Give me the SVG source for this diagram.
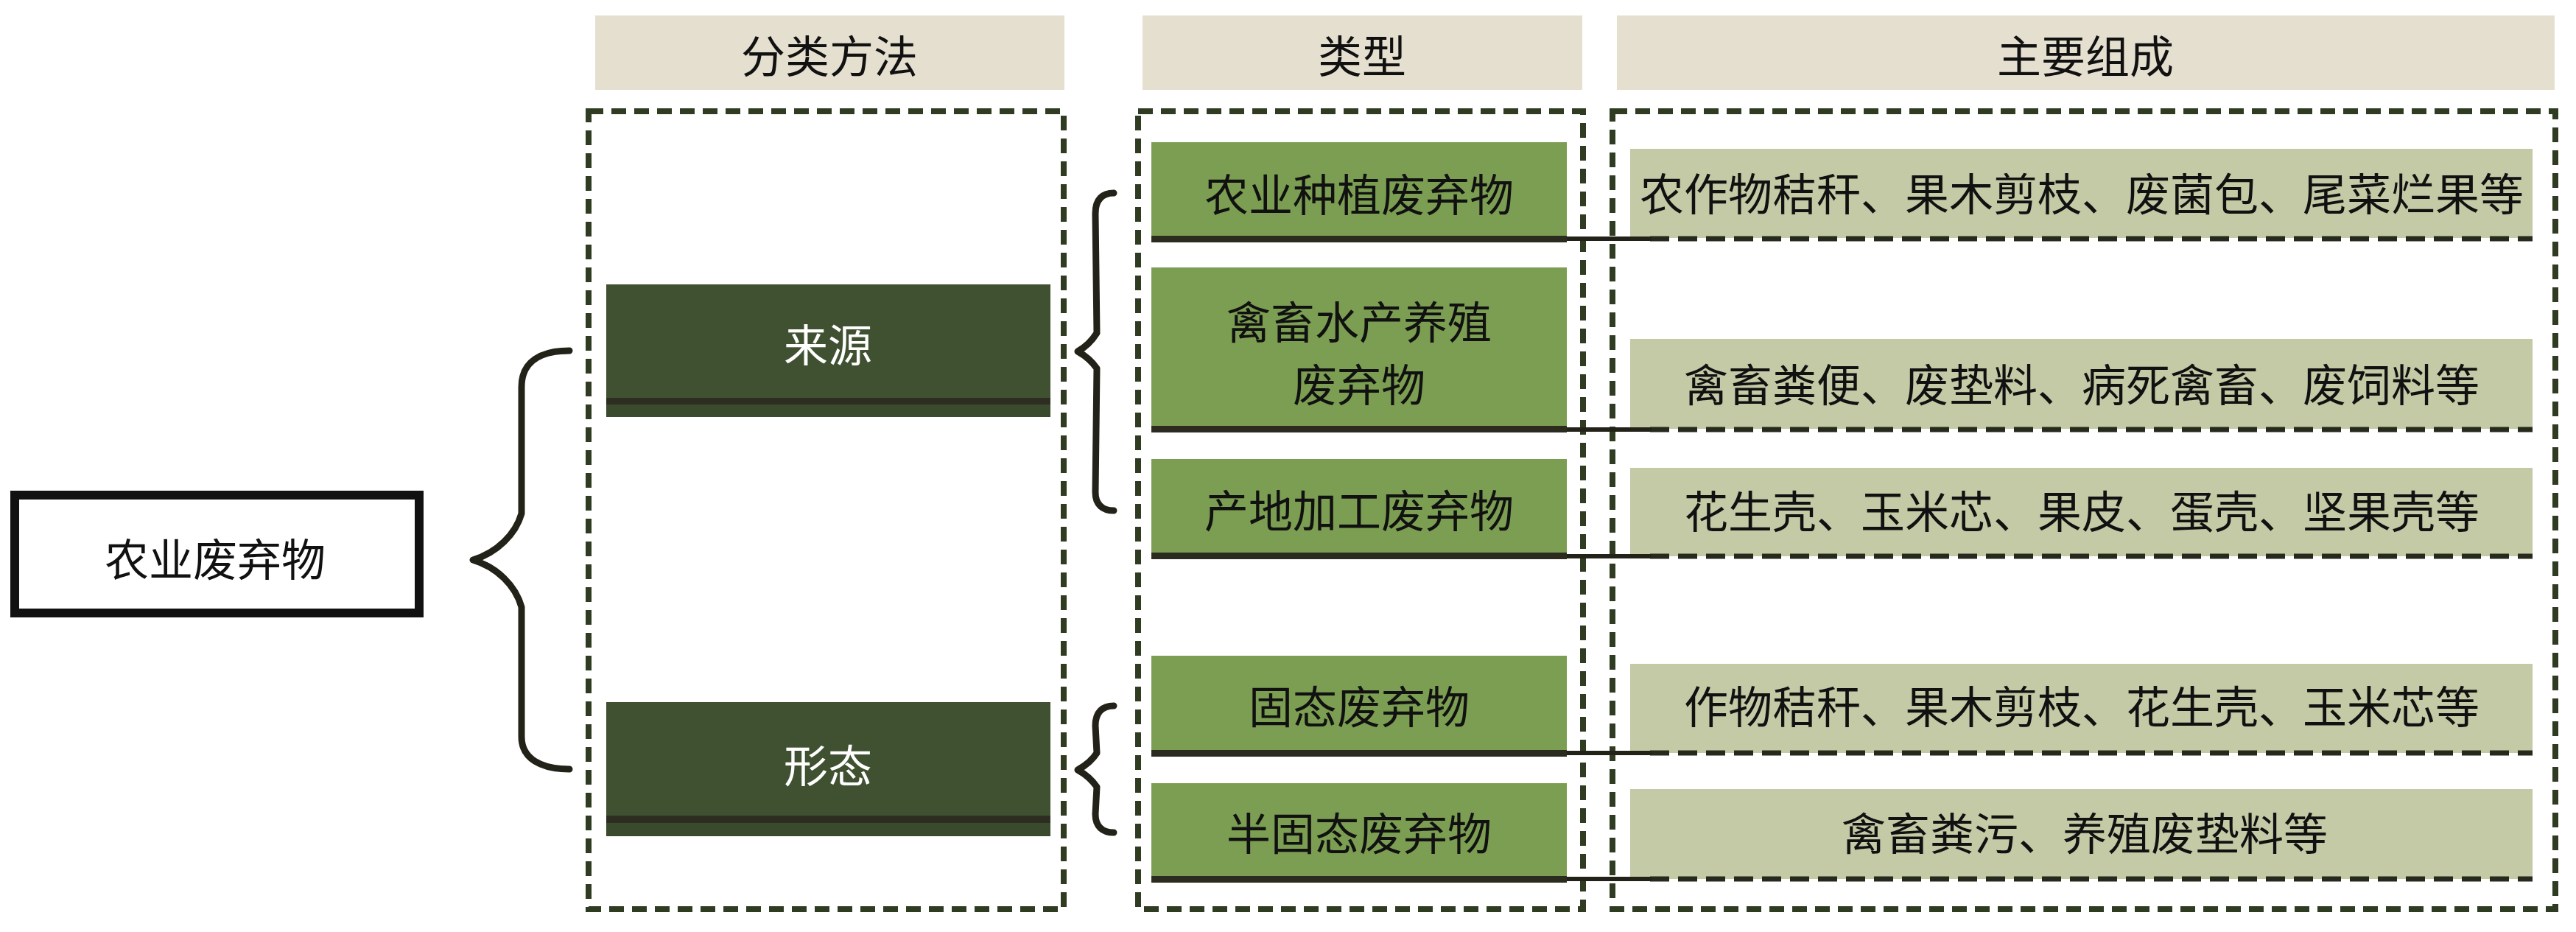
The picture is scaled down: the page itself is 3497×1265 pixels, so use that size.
<svg xmlns="http://www.w3.org/2000/svg" width="3497" height="1265" viewBox="0 0 3497 1265">
<defs>
<style>
text{font-family:"Noto Sans CJK SC","Noto Sans",sans-serif;font-size:60px;text-anchor:middle;dominant-baseline:central;fill:#111}
.hdr{fill:#e5dfd0}
.col{fill:none;stroke:#303c22;stroke-width:8;stroke-dasharray:20 11}
.method{fill:#3f5130}
.mlow{fill:#3a4a2c}
.stripe{fill:#2d2d22}
.type{fill:#7b9e52}
.tline{fill:#2b2b20}
.comp{fill:#c3caa5}
.cbot{stroke:#262a1c;stroke-width:7;stroke-dasharray:26 12;fill:none}
.wt{fill:#fff}
.brace{fill:none;stroke:#222218;stroke-width:9;stroke-linecap:round;stroke-linejoin:round}
.link{stroke:#222218;stroke-width:6;fill:none}
</style>
</defs>
<rect width="3497" height="1265" fill="#fff"/>

<g id="header-method"><rect class="hdr" x="808" y="21" width="637" height="101"/><text x="1126" y="72">分类方法</text></g>
<g id="header-type"><rect class="hdr" x="1551" y="21" width="597" height="101"/><text x="1849" y="72">类型</text></g>
<g id="header-comp"><rect class="hdr" x="2195" y="21" width="1273" height="101"/><text x="2831" y="72">主要组成</text></g>

<g id="col-method"><rect class="col" x="799" y="151" width="645" height="1083"/></g>
<g id="col-type"><rect class="col" x="1545" y="151" width="604" height="1083"/></g>
<g id="col-comp"><rect class="col" x="2189" y="151" width="1280" height="1083"/></g>

<g id="root"><rect x="20" y="672" width="549" height="160" fill="#fff" stroke="#111" stroke-width="12"/><text x="292" y="755">农业废弃物</text></g>

<g id="method-source"><rect class="method" x="823" y="386" width="603" height="154"/><rect class="stripe" x="823" y="540" width="603" height="9"/><rect class="mlow" x="823" y="549" width="603" height="17"/><text class="wt" x="1124" y="464">来源</text></g>
<g id="method-form"><rect class="method" x="823" y="953" width="603" height="154"/><rect class="stripe" x="823" y="1107" width="603" height="10"/><rect class="mlow" x="823" y="1117" width="603" height="18"/><text class="wt" x="1124" y="1035">形态</text></g>

<g id="type-1"><rect class="type" x="1563" y="193" width="564" height="127"/><rect class="tline" x="1563" y="320" width="564" height="9"/><text x="1845" y="260">农业种植废弃物</text></g>
<g id="type-2"><rect class="type" x="1563" y="363" width="564" height="215"/><rect class="tline" x="1563" y="578" width="564" height="9"/><text x="1845" y="433">禽畜水产养殖</text><text x="1845" y="518">废弃物</text></g>
<g id="type-3"><rect class="type" x="1563" y="623" width="564" height="127"/><rect class="tline" x="1563" y="750" width="564" height="9"/><text x="1845" y="689">产地加工废弃物</text></g>
<g id="type-4"><rect class="type" x="1563" y="890" width="564" height="128"/><rect class="tline" x="1563" y="1018" width="564" height="9"/><text x="1845" y="955">固态废弃物</text></g>
<g id="type-5"><rect class="type" x="1563" y="1063" width="564" height="126"/><rect class="tline" x="1563" y="1189" width="564" height="9"/><text x="1845" y="1127">半固态废弃物</text></g>

<g id="comp-1"><rect class="comp" x="2213" y="202" width="1225" height="121"/><line class="cbot" x1="2240" y1="324" x2="3438" y2="324"/><text x="2826" y="259">农作物秸秆、果木剪枝、废菌包、尾菜烂果等</text></g>
<g id="comp-2"><rect class="comp" x="2213" y="460" width="1225" height="122"/><line class="cbot" x1="2240" y1="583" x2="3438" y2="583"/><text x="2826" y="518">禽畜粪便、废垫料、病死禽畜、废饲料等</text></g>
<g id="comp-3"><rect class="comp" x="2213" y="635" width="1225" height="120"/><line class="cbot" x1="2240" y1="755" x2="3438" y2="755"/><text x="2826" y="690">花生壳、玉米芯、果皮、蛋壳、坚果壳等</text></g>
<g id="comp-4"><rect class="comp" x="2213" y="901" width="1225" height="121"/><line class="cbot" x1="2240" y1="1022" x2="3438" y2="1022"/><text x="2826" y="955">作物秸秆、果木剪枝、花生壳、玉米芯等</text></g>
<g id="comp-5"><rect class="comp" x="2213" y="1071" width="1225" height="122"/><line class="cbot" x1="2240" y1="1193" x2="3438" y2="1193"/><text x="2830" y="1127">禽畜粪污、养殖废垫料等</text></g>

<g id="connectors">
<path class="brace" d="M773 476 C735 476 708 490 708 525 L708 697 C700 725 675 750 642 760 C675 770 700 795 708 824 L708 1000 C708 1030 735 1044 773 1044"/>
<path class="brace" d="M1512 262 C1497 262 1487 270 1487 290 L1489 452 C1482 463 1472 472 1463 477 C1472 482 1482 490 1489 500 L1487 668 C1487 685 1497 693 1512 693"/>
<path class="brace" d="M1512 958 C1497 958 1487 966 1487 985 L1489 1022 C1482 1033 1472 1040 1463 1045 C1472 1050 1482 1058 1489 1068 L1487 1105 C1487 1122 1497 1130 1512 1130"/>
<line class="link" x1="2127" y1="324" x2="2242" y2="324"/>
<line class="link" x1="2127" y1="583" x2="2242" y2="583"/>
<line class="link" x1="2127" y1="755" x2="2242" y2="755"/>
<line class="link" x1="2127" y1="1022" x2="2242" y2="1022"/>
<line class="link" x1="2127" y1="1193" x2="2242" y2="1193"/>
</g>
</svg>
